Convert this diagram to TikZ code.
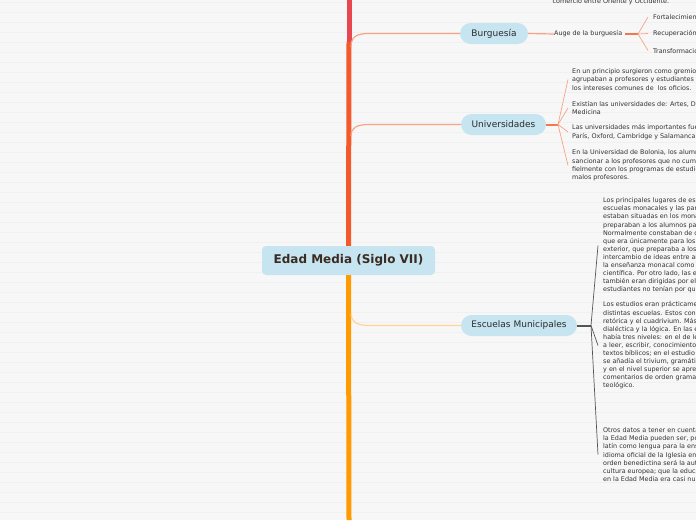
\documentclass[tikz,border=0pt]{standalone}
\usepackage{fontspec}
\setmainfont{DejaVu Sans}
\definecolor{bgc}{HTML}{F7F7F7}
\definecolor{stripe}{HTML}{F0F0F0}
\definecolor{nodeblue}{HTML}{C6E5F0}
\definecolor{nodetext}{HTML}{2B2B2B}
\definecolor{roottext}{HTML}{3B2B22}
\definecolor{smalltext}{HTML}{333333}
\definecolor{trred}{HTML}{E8474F}
\definecolor{trorr}{HTML}{F25A2B}
\definecolor{tror}{HTML}{FF9A00}
\definecolor{salmon}{HTML}{F8A285}
\definecolor{salmondk}{HTML}{F07A50}
\definecolor{paleor}{HTML}{FFD39A}
\definecolor{darkln}{HTML}{555555}
\begin{document}
\begin{tikzpicture}[x=1pt,y=-1pt,
  pill/.style={fill=nodeblue,rounded corners=10.5pt,minimum height=21pt,inner sep=0pt,font=\fontsize{9}{10}\selectfont,text=nodetext},
  rootbox/.style={fill=nodeblue,rounded corners=4pt,minimum height=29pt,minimum width=173pt,inner sep=0pt,font=\fontsize{12}{14}\selectfont\bfseries,text=roottext},
  small/.style={font=\fontsize{6.4}{8.4}\selectfont,text=smalltext,align=left,inner sep=0pt,anchor=west},
  smalltight/.style={small,font=\fontsize{6.4}{8.1}\selectfont},
  trunk/.style={line width=5pt},
  branch/.style={line width=1.2pt},
  fan/.style={line width=0.7pt},
  stub/.style={line width=2pt}]
\useasboundingbox (0,0) rectangle (696,520);
\clip (0,0) rectangle (696,520);
\fill[bgc] (0,0) rectangle (696,520);
\foreach \k in {0,...,52} {\fill[stripe] (0,{2.2+10*\k}) rectangle (696,{3.4+10*\k});}

% nodes
\node[rootbox] (root) at (348.5,260.5) {Edad Media (Siglo VII)};
\node[pill,minimum width=68pt] (burg) at (494,33.5) {Burguesía};
\node[pill,minimum width=85pt] (univ) at (503.5,124.5) {Universidades};
\node[pill,minimum width=116pt] (escu) at (519,325.5) {Escuelas Municipales};

% trunk
\coordinate (ttop) at (349,0);
\coordinate (tmid) at (349,44);
\coordinate (tbot) at (349,520);
\draw[trunk,trred] (ttop) -- (tmid);
\draw[trunk,trorr] (349,42) -- (root.north);
\draw[trunk,tror] (root.south) -- (tbot);

% main branches
\coordinate (bb) at (351,47);
\coordinate (ub) at (351,136);
\coordinate (eb) at (351,314);
\draw[branch,salmon] (bb) .. controls (351,37) and (356,33.5) .. (369,33.5) -- (burg.west);
\draw[branch,salmon] (ub) .. controls (351,128) and (356,124.5) .. (369,124.5) -- (univ.west);
\draw[branch,paleor] (eb) .. controls (351,321) and (356,325.5) .. (369,325.5) -- (escu.west);

% top text
\node[small,anchor=base west] (top) at (552.5,3.2) {comercio entre Oriente y Occidente.};

% Burguesia children
\node[small] (auge) at (554,34) {Auge de la burguesía};
\draw[branch,salmon] (burg.east) -- (auge.west);
\coordinate (af) at (638,34);
\draw[stub,salmondk] ([xshift=3pt]auge.east) -- (af);
\node[small] (b1) at (653,17) {Fortalecimiento de las ciudades};
\node[small] (b2) at (653,33.5) {Recuperación del comercio};
\node[small] (b3) at (653,50.5) {Transformación de la sociedad};
\draw[fan,salmon] (af) -- ([xshift=-5pt]b1.west);
\draw[fan,salmon] (af) -- ([xshift=-5pt]b2.west);
\draw[fan,salmon] (af) -- ([xshift=-5pt]b3.west);

% Universidades children
\coordinate (uf) at (558,124.5);
\draw[stub,salmondk] (univ.east) -- (uf);
\node[small] (u1) at (572,79.5) {En un principio surgieron como gremios que\\agrupaban a profesores y estudiantes para defender\\los intereses comunes de\ \ los oficios.};
\node[small] (u2) at (572,108) {Existían las universidades de: Artes, Derecho, Teología y\\Medicina};
\node[small] (u3) at (572,132) {Las universidades más importantes fueron las de Bolonia,\\París, Oxford, Cambridge y Salamanca.};
\node[small] (u4) at (572,165.5) {En la Universidad de Bolonia, los alumnos podían\\sancionar a los profesores que no cumplían\\fielmente con los programas de estudio o eran\\malos profesores.};
\foreach \n in {u1,u2,u3,u4} {\draw[fan,salmon] (uf) -- ([xshift=-4pt]\n.west);}

% Escuelas children
\coordinate (ef) at (591,325.5);
\draw[stub,darkln] (escu.east) -- (ef);
\node[smalltight] (e1) at (603,245.5) {Los principales lugares de estudio eran las\\escuelas monacales y las parroquiales. Las primeras\\estaban situadas en los monasterios y\\preparaban a los alumnos para la vida monástica.\\Normalmente constaban de dos escuelas: una interior,\\que era únicamente para los monjes, y otra\\exterior, que preparaba a los laicos. Hubo\\intercambio de ideas entre ambas y destacó\\la enseñanza monacal como actividad\\científica. Por otro lado, las escuelas parroquiales\\también eran dirigidas por el clero y los\\estudiantes no tenían por qué ser religiosos.};
\node[smalltight] (e2) at (603,345.5) {Los estudios eran prácticamente iguales en las\\distintas escuelas. Estos consistían en la gramática,\\retórica y el cuadrivium. Más tarde se añadió la\\dialéctica y la lógica. En las escuelas monacales\\había tres niveles: en el de lectura se aprendía\\a leer, escribir, conocimientos de cálculo y los\\textos bíblicos; en el estudio de las artes liberales\\se añadía el trivium, gramática, retórica y dialéctica\\y en el nivel superior se aprendían\\comentarios de orden gramatical, filosófico y\\teológico.};
\node[smalltight] (e3) at (603,454.5) {Otros datos a tener en cuenta sobre la educación en\\la Edad Media pueden ser, por ejemplo, el uso del\\latín como lengua para la enseñanza, ya que era el\\idioma oficial de la Iglesia en Occidente; que la\\orden benedictina será la autora de gran parte de la\\cultura europea; que la educación de la mujer\\en la Edad Media era casi nula.};
\foreach \n in {e1,e2,e3} {\draw[fan,darkln] (ef) -- ([xshift=-5pt]\n.west);}
\end{tikzpicture}
\end{document}
